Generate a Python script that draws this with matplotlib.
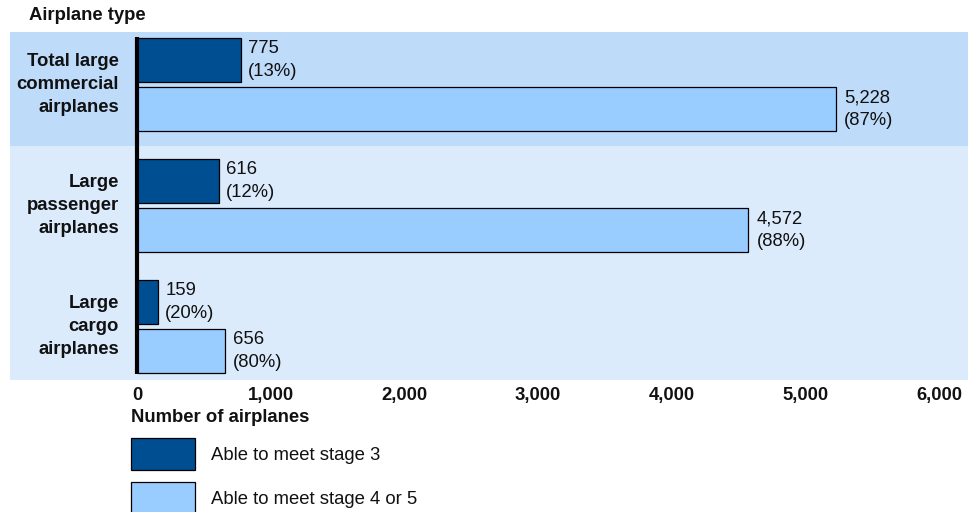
import matplotlib
matplotlib.use("Agg")
import matplotlib.pyplot as plt
import numpy as np
from matplotlib.transforms import blended_transform_factory
from matplotlib.patches import Rectangle

plt.rcParams['font.family'] = ['Liberation Sans', 'DejaVu Sans']

categories = ["Total large\ncommercial\nairplanes", "Large\npassenger\nairplanes", "Large\ncargo\nairplanes"]
stage3 = [775, 616, 159]
stage45 = [5228, 4572, 656]
pct3 = [13, 12, 20]
pct45 = [87, 88, 80]
xticks = [0, 1000, 2000, 3000, 4000, 5000, 6000]
xticklabels = ["0", "1,000", "2,000", "3,000", "4,000", "5,000", "6,000"]
series_names = ["Able to meet stage 3", "Able to meet stage 4 or 5"]

dark = "#004e92"
light = "#99ccff"
band1 = "#bedbfa"
band2 = "#dcebfc"

W, H = 978, 512
fig = plt.figure(figsize=(W/100, H/100), dpi=100)
ax = fig.add_axes([10/W, 1-380/H, 958/W, 348/H])

pitch = 121.0
ylo = (32 - 84.5) / pitch
ymid = (146 - 84.5) / pitch
yhi = (380 - 84.5) / pitch
ax.set_ylim(yhi, ylo)
ax.set_xlim((10-137)/0.1337, (968-137)/0.1337)

ax.axhspan(ylo, ymid, color=band1, zorder=0, lw=0)
ax.axhspan(ymid, yhi, color=band2, zorder=0, lw=0)

y = np.arange(len(categories))
off = 24.5 / pitch
h = 44 / pitch
b1 = ax.barh(y - off, stage3, height=h, color=dark, edgecolor="black", linewidth=0.9, label=series_names[0], zorder=2)
b2 = ax.barh(y + off, stage45, height=h, color=light, edgecolor="black", linewidth=0.9, label=series_names[1], zorder=2)

fs = 13.3
ls = 1.45
tc = "#111111"
for yi, v, p in zip(y - off, stage3, pct3):
    ax.annotate(f"{v:,}\n({p}%)", (v, yi), xytext=(5, 0), textcoords="offset points",
                va="center", ha="left", fontsize=fs, linespacing=ls, color=tc)
for yi, v, p in zip(y + off, stage45, pct45):
    ax.annotate(f"{v:,}\n({p}%)", (v, yi), xytext=(6, 0), textcoords="offset points",
                va="center", ha="left", fontsize=fs, linespacing=ls, color=tc)

ax.plot([0, 0], [(37-84.5)/pitch, (374-84.5)/pitch], color="black", lw=3.0, zorder=3, solid_capstyle="butt")

trans = blended_transform_factory(fig.transFigure, ax.transData)
for yi, c in zip(y, categories):
    ax.text(119/W, yi, c, transform=trans, ha="right", va="center", fontsize=fs,
            fontweight="bold", linespacing=ls, color=tc)

ax.set_xticks(xticks)
ax.set_xticklabels(xticklabels, fontsize=fs, fontweight="bold", color=tc)
ax.tick_params(axis="x", length=0, pad=5)
ax.set_yticks([])
for s in ax.spines.values():
    s.set_visible(False)

fig.text(29/W, 1-16/H, "Airplane type", ha="left", va="center", fontsize=fs, fontweight="bold", color=tc)
fig.text(131/W, 1-418/H, "Number of airplanes", ha="left", va="center", fontsize=fs, fontweight="bold", color=tc)

# legend (manual layout)
for (top, col, name) in [(438, dark, series_names[0]), (482, light, series_names[1])]:
    fig.patches.append(Rectangle((131/W, 1-(top+32)/H), 64/W, 32/H, transform=fig.transFigure,
                                 facecolor=col, edgecolor="black", linewidth=0.9))
    fig.text(211/W, 1-(top+17)/H, name, ha="left", va="center", fontsize=fs, color=tc)

fig.savefig("out.png", dpi=100)
